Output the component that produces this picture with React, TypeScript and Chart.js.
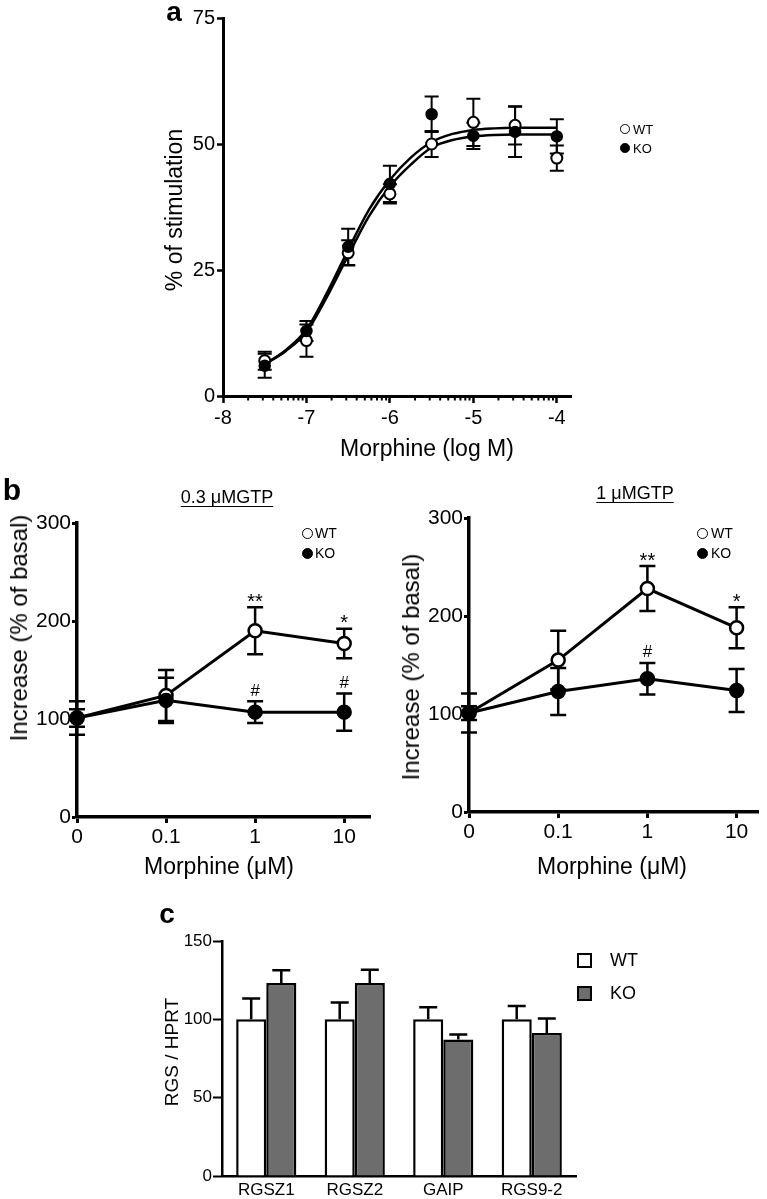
import React, { useEffect, useRef } from "react";
import { Chart, registerables } from "chart.js";

Chart.register(...registerables);

const FONT = "'Liberation Sans', Arial, Helvetica, sans-serif";

// ---------- Panel a : dose-response ----------
const logDose = [-7.5, -7, -6.5, -6, -5.5, -5, -4.5, -4];
const wtStim = [7.0, 11.0, 28.4, 40.1, 50.0, 54.3, 53.7, 47.2];
const wtStimErr = [1.8, 3.2, 2.5, 1.9, 2.6, 4.7, 3.8, 2.5];
const koStim = [6.0, 12.9, 29.6, 42.1, 55.9, 51.6, 52.4, 51.5];
const koStimErr = [2.4, 2.0, 3.6, 3.6, 3.5, 2.6, 5.0, 3.4];
const fitLogDose = [-7.5, -7.25, -7, -6.75, -6.5, -6.25, -6, -5.75, -5.5, -5.25, -5, -4.75, -4.5, -4.25, -4];
const fitUpper = [6.3, 9.1, 13.2, 20.6, 29.0, 37.0, 42.9, 47.3, 50.4, 52.0, 52.8, 53.1, 53.2, 53.2, 53.2];
const fitLower = [6.3, 8.9, 12.7, 19.8, 27.9, 35.7, 41.6, 45.9, 49.3, 50.8, 51.5, 51.8, 51.9, 51.9, 51.9];
const logTickValues = [-8, -7, -6, -5, -4];
const stimTickValues = [0, 25, 50, 75];

// ---------- Panel b : GTP binding ----------
const morphineLabels = ["0", "0.1", "1", "10"];
const wtGtp03 = [101, 124, 190, 177];
const wtGtp03Err = [17, 26, 24, 15];
const koGtp03 = [101, 119, 107, 107];
const koGtp03Err = [9, 23, 11, 19];
const wtGtp03Marks = ["", "", "**", "*"];
const koGtp03Marks = ["", "", "#", "#"];

const wtGtp1 = [101, 155, 228, 188];
const wtGtp1Err = [20, 30, 23, 21];
const koGtp1 = [101, 123, 136, 124];
const koGtp1Err = [7, 24, 16, 22];
const wtGtp1Marks = ["", "", "**", "*"];
const koGtp1Marks = ["", "", "#", ""];
const increaseTicks = [0, 100, 200, 300];

// ---------- Panel c : RGS expression ----------
const rgsGenes = ["RGSZ1", "RGSZ2", "GAIP", "RGS9-2"];
const wtRgs = [100, 100, 100, 100];
const wtRgsErr = [13.3, 10.7, 7.7, 8.5];
const koRgs = [123.2, 123.2, 87.1, 91.3];
const koRgsErr = [8.1, 8.5, 3.2, 9.2];
const rgsTicks = [0, 50, 100, 150];

type ErrSpec = { ds: number; err: number[]; cap: number; lw: number; upOnly?: boolean };

function valueOf(raw: any): number {
  return typeof raw === "number" ? raw : raw.y;
}

function errorBars(specs: ErrSpec[], after: boolean) {
  const draw = (chart: any) => {
    const ctx = chart.ctx;
    const ys = chart.scales.y;
    ctx.save();
    ctx.strokeStyle = "#000";
    specs.forEach((s) => {
      const meta = chart.getDatasetMeta(s.ds);
      const data = chart.data.datasets[s.ds].data;
      meta.data.forEach((el: any, i: number) => {
        const v = valueOf(data[i]);
        const e = s.err[i];
        if (!e) return;
        const x = el.x;
        const yTop = ys.getPixelForValue(v + e);
        const yBot = ys.getPixelForValue(s.upOnly ? v : v - e);
        ctx.lineWidth = s.lw;
        ctx.beginPath();
        ctx.moveTo(x, yTop);
        ctx.lineTo(x, yBot);
        ctx.moveTo(x - s.cap, yTop);
        ctx.lineTo(x + s.cap, yTop);
        if (!s.upOnly) {
          ctx.moveTo(x - s.cap, yBot);
          ctx.lineTo(x + s.cap, yBot);
        }
        ctx.stroke();
      });
    });
    ctx.restore();
  };
  return after
    ? { id: "errAfter", afterDatasetsDraw: draw }
    : { id: "errBefore", beforeDatasetsDraw: draw };
}

function sigMarks(specs: { ds: number; err: number[]; marks: string[] }[], size: number) {
  return {
    id: "sigMarks",
    afterDatasetsDraw(chart: any) {
      const ctx = chart.ctx;
      const ys = chart.scales.y;
      ctx.save();
      ctx.fillStyle = "#000";
      ctx.textAlign = "center";
      ctx.textBaseline = "bottom";
      specs.forEach((s) => {
        const meta = chart.getDatasetMeta(s.ds);
        const data = chart.data.datasets[s.ds].data;
        meta.data.forEach((el: any, i: number) => {
          const m = s.marks[i];
          if (!m) return;
          const v = valueOf(data[i]);
          const y = ys.getPixelForValue(v + s.err[i]);
          const isStar = m.indexOf("*") >= 0;
          ctx.font = `${isStar ? size + 3 : size}px ${FONT}`;
          ctx.fillText(m, el.x, isStar ? y + 5 : y - 2);
        });
      });
      ctx.restore();
    },
  };
}

const logMinorTicks = {
  id: "logMinor",
  afterDraw(chart: any) {
    const xs = chart.scales.x;
    const ctx = chart.ctx;
    ctx.save();
    ctx.strokeStyle = "#000";
    ctx.lineWidth = 2;
    for (let d = 0; d < logTickValues.length - 1; d++) {
      for (let k = 2; k <= 9; k++) {
        const px = xs.getPixelForValue(logTickValues[d] + Math.log10(k));
        ctx.beginPath();
        ctx.moveTo(px, xs.top);
        ctx.lineTo(px, xs.top + 4.5);
        ctx.stroke();
      }
    }
    ctx.restore();
  },
};

function makeAxis(o: {
  min?: number;
  max?: number;
  ticks?: number[];
  labels?: (v: number) => string;
  fit: number;
  horizontal: boolean;
  size: number;
  tickLength: number;
  pad: number;
  border: number;
  showTicks?: boolean;
  type?: string;
}) {
  const ax: any = {
    type: o.type || "linear",
    grid: {
      display: o.showTicks !== false,
      drawOnChartArea: false,
      drawTicks: true,
      tickLength: o.tickLength,
      tickWidth: o.border - 0.5,
      tickColor: "#000",
    },
    border: { display: true, color: "#000", width: o.border },
    ticks: {
      color: "#000",
      font: { family: FONT, size: o.size },
      padding: o.pad,
      autoSkip: false,
      maxRotation: 0,
      minRotation: 0,
    },
    afterFit: (s: any) => {
      if (o.horizontal) s.height = o.fit;
      else s.width = o.fit;
    },
  };
  if (o.min !== undefined) ax.min = o.min;
  if (o.max !== undefined) ax.max = o.max;
  if (o.ticks) {
    const t = o.ticks;
    ax.afterBuildTicks = (s: any) => {
      s.ticks = t.map((v) => ({ value: v }));
    };
  }
  if (o.labels) ax.ticks.callback = o.labels;
  return ax;
}

const baseOptions = {
  responsive: false,
  animation: false as const,
  events: [] as any[],
  plugins: { legend: { display: false }, tooltip: { enabled: false }, title: { display: false } },
};

function buildPanelA(): any {
  return {
    type: "line",
    data: {
      datasets: [
        {
          data: logDose.map((x, i) => ({ x, y: koStim[i] })),
          showLine: false,
          pointRadius: 5.5,
          pointBorderWidth: 1.5,
          pointBackgroundColor: "#000",
          pointBorderColor: "#000",
          order: 0,
          clip: false,
        },
        {
          data: logDose.map((x, i) => ({ x, y: wtStim[i] })),
          showLine: false,
          pointRadius: 5.5,
          pointBorderWidth: 2,
          pointBackgroundColor: "#fff",
          pointBorderColor: "#000",
          order: 1,
          clip: false,
        },
        {
          data: fitLogDose.map((x, i) => ({ x, y: fitUpper[i] })),
          borderColor: "#000",
          borderWidth: 2.5,
          pointRadius: 0,
          cubicInterpolationMode: "monotone",
          order: 2,
        },
        {
          data: fitLogDose.map((x, i) => ({ x, y: fitLower[i] })),
          borderColor: "#000",
          borderWidth: 2.5,
          pointRadius: 0,
          cubicInterpolationMode: "monotone",
          order: 3,
        },
      ],
    },
    options: {
      ...baseOptions,
      layout: { padding: { left: 0, top: 18, right: 196, bottom: 0 } },
      scales: {
        x: makeAxis({
          min: -8,
          max: -3.83,
          ticks: logTickValues,
          labels: (v) => String(v),
          fit: 74,
          horizontal: true,
          size: 20,
          tickLength: 7,
          pad: 3,
          border: 3,
        }),
        y: makeAxis({
          min: 0,
          max: 75,
          ticks: stimTickValues,
          labels: (v) => String(v),
          fit: 223,
          horizontal: false,
          size: 20,
          tickLength: 6,
          pad: 2,
          border: 3,
        }),
      },
    },
    plugins: [
      errorBars(
        [
          { ds: 0, err: koStimErr, cap: 7, lw: 2 },
          { ds: 1, err: wtStimErr, cap: 7, lw: 2 },
        ],
        false
      ),
      logMinorTicks,
    ],
  };
}

function buildPanelB(
  wt: number[],
  wtErr: number[],
  ko: number[],
  koErr: number[],
  wtMarks: string[],
  koMarks: string[],
  layout: { top: number; right: number; yWidth: number; xHeight: number; xMax: number }
): any {
  const lineDs = (vals: number[], fill: string, order: number) => ({
    data: vals.map((y, i) => ({ x: i, y })),
    borderColor: "#000",
    borderWidth: 3,
    pointRadius: 6.5,
    pointBorderWidth: 2.5,
    pointBackgroundColor: fill,
    pointBorderColor: "#000",
    tension: 0,
    order,
    clip: false,
  });
  return {
    type: "line",
    data: { datasets: [lineDs(ko, "#000", 0), lineDs(wt, "#fff", 1)] },
    options: {
      ...baseOptions,
      layout: { padding: { left: 0, top: layout.top, right: layout.right, bottom: 0 } },
      scales: {
        x: makeAxis({
          min: 0,
          max: layout.xMax,
          ticks: [0, 1, 2, 3],
          labels: (v) => morphineLabels[v] ?? "",
          fit: layout.xHeight,
          horizontal: true,
          size: 21,
          tickLength: 6,
          pad: 2,
          border: 3.5,
        }),
        y: makeAxis({
          min: 0,
          max: 300,
          ticks: increaseTicks,
          labels: (v) => String(v),
          fit: layout.yWidth,
          horizontal: false,
          size: 21,
          tickLength: 5,
          pad: 1,
          border: 3.5,
        }),
      },
    },
    plugins: [
      errorBars(
        [
          { ds: 0, err: koErr, cap: 8, lw: 2.5 },
          { ds: 1, err: wtErr, cap: 8, lw: 2.5 },
        ],
        false
      ),
      sigMarks(
        [
          { ds: 1, err: wtErr, marks: wtMarks },
          { ds: 0, err: koErr, marks: koMarks },
        ],
        17
      ),
    ],
  };
}

function buildPanelC(): any {
  const barDs = (vals: number[], fill: string) => ({
    data: vals,
    backgroundColor: fill,
    borderColor: "#000",
    borderWidth: 2.5,
    categoryPercentage: 0.68,
    barPercentage: 1,
  });
  return {
    type: "bar",
    data: { labels: rgsGenes, datasets: [barDs(wtRgs, "#fff"), barDs(koRgs, "#6d6d6d")] },
    options: {
      ...baseOptions,
      layout: { padding: { left: 0, top: 41, right: 191, bottom: 0 } },
      scales: {
        x: makeAxis({
          type: "category",
          fit: 23,
          horizontal: true,
          size: 17,
          tickLength: 0,
          pad: 4,
          border: 2.5,
          showTicks: false,
        }),
        y: makeAxis({
          min: 0,
          max: 150,
          ticks: rgsTicks,
          labels: (v) => String(v),
          fit: 222,
          horizontal: false,
          size: 17,
          tickLength: 9,
          pad: 1,
          border: 2.5,
        }),
      },
    },
    plugins: [
      errorBars(
        [
          { ds: 0, err: wtRgsErr, cap: 9, lw: 2.5, upOnly: true },
          { ds: 1, err: koRgsErr, cap: 9, lw: 2.5, upOnly: true },
        ],
        true
      ),
    ],
  };
}

function ChartBox(props: { left: number; top: number; width: number; height: number; build: () => any }) {
  const ref = useRef<HTMLCanvasElement | null>(null);
  useEffect(() => {
    const chart = new Chart(ref.current as HTMLCanvasElement, props.build());
    return () => chart.destroy();
  }, []);
  return (
    <canvas
      ref={ref}
      width={props.width}
      height={props.height}
      style={{ position: "absolute", left: props.left, top: props.top, width: props.width, height: props.height }}
    />
  );
}

function Text(props: {
  x: number;
  y: number;
  text: string;
  size: number;
  bold?: boolean;
  rotate?: boolean;
  underline?: boolean;
}) {
  return (
    <div
      style={{
        position: "absolute",
        left: props.x,
        top: props.y,
        transform: `translate(-50%, -50%)${props.rotate ? " rotate(-90deg)" : ""}`,
        whiteSpace: "nowrap",
        fontFamily: FONT,
        fontSize: props.size,
        fontWeight: props.bold ? "bold" : "normal",
        lineHeight: 1,
        color: "#000",
        textDecoration: props.underline ? "underline" : "none",
        textUnderlineOffset: 3,
      }}
    >
      {props.text}
    </div>
  );
}

function LegendItem(props: {
  x: number;
  y: number;
  r: number;
  label: string;
  filled: boolean;
  square?: boolean;
  textX: number;
  size: number;
  fill?: string;
}) {
  const { x, y, r } = props;
  return (
    <>
      <div
        style={{
          position: "absolute",
          left: x - r,
          top: y - r,
          width: 2 * r,
          height: 2 * r,
          boxSizing: "border-box",
          border: `${props.square ? 2 : 1.8}px solid #000`,
          borderRadius: props.square ? 0 : "50%",
          background: props.fill || (props.filled ? "#000" : "#fff"),
        }}
      />
      <div
        style={{
          position: "absolute",
          left: props.textX,
          top: y,
          transform: "translateY(-50%)",
          fontFamily: FONT,
          fontSize: props.size,
          lineHeight: 1,
          color: "#000",
          whiteSpace: "nowrap",
        }}
      >
        {props.label}
      </div>
    </>
  );
}

export default function App() {
  return (
    <div style={{ position: "absolute", left: 0, top: 0, width: 767, height: 1199, background: "#fff", overflow: "hidden" }}>
      {/* Panel a */}
      <ChartBox left={0} top={0} width={767} height={470} build={buildPanelA} />
      <Text x={174} y={12} text="a" size={28} bold />
      <Text x={174} y={210} text="% of stimulation" size={23} rotate />
      <Text x={427} y={448} text="Morphine (log M)" size={23} />
      <LegendItem x={625} y={129} r={4.8} label="WT" filled={false} textX={633} size={13} />
      <LegendItem x={625} y={148} r={4.8} label="KO" filled textX={633} size={13} />

      {/* Panel b */}
      <ChartBox
        left={0}
        top={470}
        width={383}
        height={410}
        build={() =>
          buildPanelB(wtGtp03, wtGtp03Err, koGtp03, koGtp03Err, wtGtp03Marks, koGtp03Marks, {
            top: 53,
            right: 13,
            yWidth: 77,
            xHeight: 63,
            xMax: 3.29,
          })
        }
      />
      <ChartBox
        left={383}
        top={470}
        width={384}
        height={410}
        build={() =>
          buildPanelB(wtGtp1, wtGtp1Err, koGtp1, koGtp1Err, wtGtp1Marks, koGtp1Marks, {
            top: 48,
            right: 9,
            yWidth: 86,
            xHeight: 68,
            xMax: 3.24,
          })
        }
      />
      <Text x={12} y={490} text="b" size={30} bold />
      <Text x={227} y={497} text="0.3 μMGTP" size={18} underline />
      <Text x={635} y={493} text="1 μMGTP" size={18} underline />
      <Text x={19} y={628} text="Increase (% of basal)" size={24} rotate />
      <Text x={411} y={667} text="Increase (% of basal)" size={24} rotate />
      <Text x={219} y={866} text="Morphine (μM)" size={23} />
      <Text x={612} y={866} text="Morphine (μM)" size={23} />
      <LegendItem x={307} y={533} r={5.5} label="WT" filled={false} textX={315} size={14} />
      <LegendItem x={307} y={553} r={5.5} label="KO" filled textX={315} size={14} />
      <LegendItem x={702} y={533} r={5.5} label="WT" filled={false} textX={711} size={14} />
      <LegendItem x={702} y={553} r={5.5} label="KO" filled textX={711} size={14} />

      {/* Panel c */}
      <ChartBox left={0} top={900} width={767} height={299} build={buildPanelC} />
      <Text x={167} y={914} text="c" size={28} bold />
      <Text x={171} y={1052} text="RGS / HPRT" size={19} rotate />
      <LegendItem x={584.5} y={960} r={7.5} label="WT" filled={false} square textX={610} size={18} />
      <LegendItem x={584.5} y={993} r={7.5} label="KO" filled square fill="#6d6d6d" textX={610} size={18} />
    </div>
  );
}
